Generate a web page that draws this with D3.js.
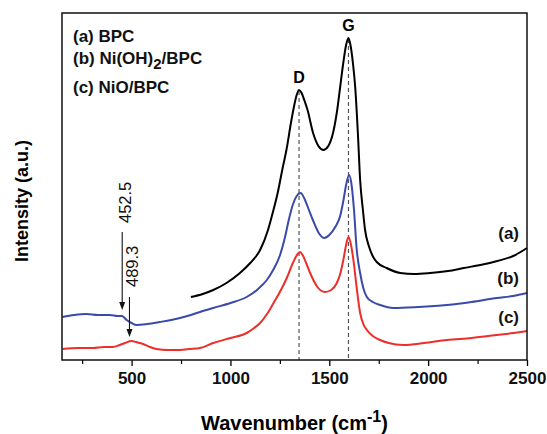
<!DOCTYPE html>
<html lang="en">

<head>
    <meta charset="UTF-8" />
    <script src="https://d3js.org/d3.v7.min.js"></script>
    <title>Raman spectra</title>
    <style>
        body { margin: 0; background: #fff; }
        text { font-family: "Liberation Sans", Arial, sans-serif; }
    </style>
</head>

<body>
    <script>
        // wavenumber (cm-1), intensity (a.u.)
        var bpc = [
            [800, 63], [860, 66], [913, 70], [980, 77], [1048, 87], [1100, 97], [1150, 110], [1190, 130],
            [1215, 148], [1240, 168], [1262, 190], [1285, 212], [1305, 236], [1322, 254], [1335, 265],
            [1347, 270], [1360, 267], [1375, 259], [1390, 250], [1418, 227], [1445, 214], [1470, 210],
            [1495, 214], [1520, 228], [1540, 250], [1555, 273], [1570, 296], [1585, 315], [1597, 322],
            [1608, 314], [1620, 296], [1631, 273], [1645, 225], [1656, 180], [1670, 150], [1681, 130],
            [1700, 114], [1722, 103], [1740, 98], [1790, 92], [1859, 87], [1930, 86], [2010, 87],
            [2100, 89], [2180, 92], [2264, 95], [2350, 99], [2430, 104], [2500, 112]
        ];
        var niohBpc = [
            [150, 43], [210, 45], [272, 46], [330, 45], [390, 45], [430, 44], [452, 44], [475, 40],
            [500, 37], [525, 35], [580, 36], [643, 38], [700, 40], [745, 42], [800, 45], [846, 48],
            [913, 52], [1000, 57], [1082, 63], [1140, 71], [1184, 80], [1216, 90], [1251, 105],
            [1275, 122], [1295, 140], [1315, 155], [1335, 164], [1355, 167], [1375, 161], [1395, 151],
            [1419, 139], [1450, 126], [1474, 122], [1500, 125], [1530, 133], [1555, 144], [1570, 158],
            [1585, 175], [1600, 185], [1612, 176], [1625, 150], [1638, 112], [1656, 87], [1672, 72],
            [1690, 63], [1720, 58], [1757, 55], [1824, 52], [1950, 53], [2095, 55], [2220, 58],
            [2348, 62], [2430, 64], [2500, 67]
        ];
        var nioBpc = [
            [150, 11], [230, 12], [305, 12], [360, 13], [405, 13], [440, 15], [466, 17], [500, 19],
            [522, 18], [542, 17], [570, 15], [593, 13], [627, 11], [680, 10], [728, 10], [790, 11],
            [846, 12], [913, 17], [1000, 22], [1082, 27], [1120, 32], [1150, 37], [1185, 46],
            [1218, 57], [1250, 68], [1285, 82], [1318, 98], [1340, 106], [1352, 108], [1365, 105],
            [1385, 96], [1403, 87], [1440, 73], [1478, 68], [1510, 70], [1538, 77], [1555, 86],
            [1571, 100], [1585, 115], [1597, 123], [1610, 115], [1622, 100], [1640, 70], [1656, 47],
            [1672, 36], [1690, 30], [1720, 24], [1757, 20], [1800, 17], [1875, 15], [1980, 17],
            [2095, 20], [2220, 22], [2348, 25], [2430, 27], [2500, 29]
        ];

        var xTicks = [500, 1000, 1500, 2000, 2500];
        var xMinorTicks = [250, 750, 1250, 1750, 2250];
        var bandPositions = [1347, 1597];
        var bandLabels = ["D", "G"];
        var shiftPositions = [452.5, 489.3];
        var shiftLabels = ["452.5", "489.3"];

        var width = 547, height = 434;
        var margin = { left: 62, right: 20, top: 13, bottom: 74 };
        var w = width - margin.left - margin.right,
            h = height - margin.top - margin.bottom;

        var svg = d3.select("body").append("svg")
            .attr("width", width)
            .attr("height", height);

        var g = svg.append("g").attr("transform", "translate(" + margin.left + "," + margin.top + ")");

        var x = d3.scaleLinear().domain([148, 2500]).range([0, w]);
        var y = d3.scaleLinear().domain([0, 347]).range([h, 0]);

        // x axis, outward ticks
        var xAxis = d3.axisBottom(x).tickValues(xTicks).tickSize(6).tickPadding(6).tickFormat(d3.format("d"));
        var axG = g.append("g").attr("transform", "translate(0," + h + ")").call(xAxis);
        axG.select(".domain").remove();
        axG.selectAll("line").attr("stroke", "#000").attr("stroke-width", 1.3);
        axG.selectAll("text")
            .style("font-size", "17px").style("font-weight", "bold").attr("fill", "#111");

        var minorG = g.append("g").attr("transform", "translate(0," + h + ")")
            .call(d3.axisBottom(x).tickValues(xMinorTicks).tickSize(4).tickFormat(""));
        minorG.select(".domain").remove();
        minorG.selectAll("line").attr("stroke", "#000").attr("stroke-width", 1.2);

        // dashed band guides
        g.selectAll(".band").data(bandPositions).enter().append("line")
            .attr("x1", (d) => x(d)).attr("x2", (d) => x(d))
            .attr("y1", (d, i) => i == 0 ? 78 : 26).attr("y2", h)
            .attr("stroke", "#555").attr("stroke-width", 1.2).attr("stroke-dasharray", "4,3");

        var line = d3.line()
            .x((d) => x(d[0]))
            .y((d) => y(d[1]))
            .curve(d3.curveMonotoneX);

        var series = [
            { data: bpc, color: "#000000" },
            { data: niohBpc, color: "#3a4aa8" },
            { data: nioBpc, color: "#ec2f2a" }
        ];

        g.selectAll(".spec").data(series).enter().append("path")
            .attr("d", (d) => line(d.data))
            .attr("fill", "none")
            .attr("stroke", (d) => d.color)
            .attr("stroke-width", 2);

        // frame
        g.append("rect").attr("width", w).attr("height", h)
            .attr("fill", "none").attr("stroke", "#111").attr("stroke-width", 1.5);

        // band letters
        g.selectAll(".bandlbl").data(bandLabels).enter().append("text")
            .attr("x", (d, i) => x(bandPositions[i]))
            .attr("y", (d, i) => i == 0 ? 70 : 18)
            .attr("text-anchor", "middle")
            .style("font-size", "16px").style("font-weight", "bold")
            .text((d) => d);

        // legend text top-left
        var leg = g.append("g").style("font-size", "17px").style("font-weight", "bold").attr("fill", "#111");
        leg.append("text").attr("x", 11).attr("y", 29).text("(a) BPC");
        var lb = leg.append("text").attr("x", 11).attr("y", 51);
        lb.append("tspan").text("(b) Ni(OH)");
        lb.append("tspan").attr("dy", 5).style("font-size", "15px").text("2");
        lb.append("tspan").attr("dy", -5).text("/BPC");
        leg.append("text").attr("x", 11).attr("y", 80).text("(c) NiO/BPC");

        // right side series tags
        var tags = ["(a)", "(b)", "(c)"];
        var tagY = [226, 271, 310];
        g.selectAll(".tag").data(tags).enter().append("text")
            .attr("x", w - 8).attr("y", (d, i) => tagY[i])
            .attr("text-anchor", "end")
            .style("font-size", "17px").style("font-weight", "bold").attr("fill", "#111")
            .text((d) => d);

        // peak shift arrows
        var arrowTop = [219, 284];
        var arrowTip = [297, 324];
        var textBottom = [210, 274];
        shiftPositions.forEach(function (v, i) {
            var px = x(v);
            g.append("line").attr("x1", px).attr("x2", px)
                .attr("y1", arrowTop[i]).attr("y2", arrowTip[i] - 7)
                .attr("stroke", "#111").attr("stroke-width", 1.1);
            g.append("path")
                .attr("d", "M" + (px - 3) + "," + (arrowTip[i] - 8) + "L" + (px + 3) + "," + (arrowTip[i] - 8) + "L" + px + "," + arrowTip[i] + "Z")
                .attr("fill", "#111");
            g.append("text")
                .attr("transform", "translate(" + (px + 8.5) + "," + textBottom[i] + ") rotate(-90)")
                .style("font-size", "16.5px").attr("fill", "#111")
                .text(shiftLabels[i]);
        });

        // axis titles
        var xt = svg.append("text")
            .attr("x", margin.left + w / 2).attr("y", 430)
            .attr("text-anchor", "middle")
            .style("font-size", "20px").style("font-weight", "bold");
        xt.append("tspan").text("Wavenumber (cm");
        xt.append("tspan").attr("dy", -8).style("font-size", "16px").text("-1");
        xt.append("tspan").attr("dy", 8).text(")");

        svg.append("text")
            .attr("transform", "translate(28," + 201 + ") rotate(-90)")
            .attr("text-anchor", "middle")
            .style("font-size", "18px").style("font-weight", "bold")
            .text("Intensity (a.u.)");
    </script>
</body>

</html>
